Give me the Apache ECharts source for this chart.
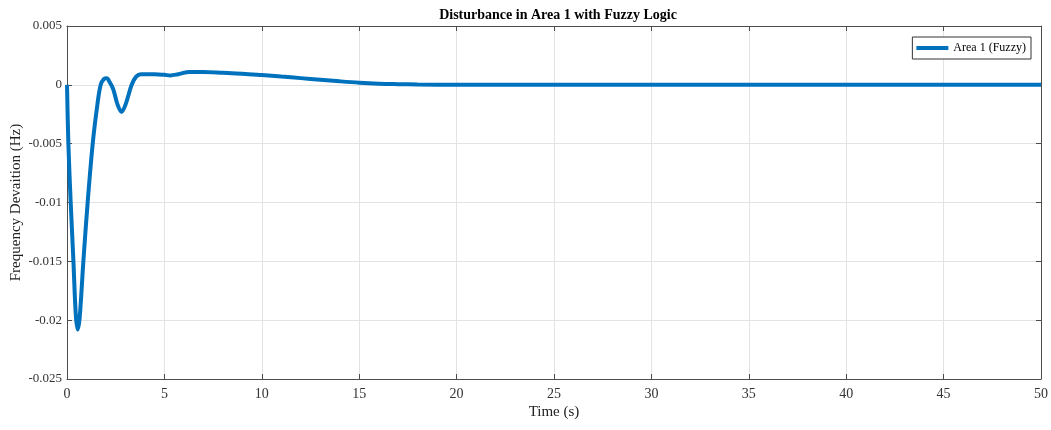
<!DOCTYPE html>
<html><head><meta charset="utf-8">
<script src="https://cdn.jsdelivr.net/npm/echarts@6/dist/echarts.min.js"></script>
<style>html,body{margin:0;padding:0;background:#fff}#c{width:1051px;height:430px}</style>
</head><body><div id="c"></div>
<script>
const timeValues = [0,0.07,0.19,0.33,0.45,0.55,0.65,0.84,1.06,1.32,1.55,1.73,1.9,2.04,2.2,2.38,2.6,2.8,3.0,3.32,3.55,3.8,4.5,5.0,5.3,5.7,6.3,7,8,9,10,11,12,13,14,15,16,17,18,20,22,30,40,50];
const deviationValues = [0,-0.005,-0.010,-0.015,-0.0195,-0.0208,-0.0198,-0.015,-0.010,-0.005,-0.0018,0,0.0005,0.00057,0.0002,-0.0004,-0.0017,-0.0023,-0.0017,0,0.0007,0.0009,0.0009,0.00085,0.0008,0.0009,0.0011,0.0011,0.00103,0.00095,0.00083,0.0007,0.00057,0.00044,0.0003,0.00018,0.0001,0.00006,0.00003,0.00001,0,0,0,0];
const seriesName = 'Area 1 (Fuzzy)';
const titleText = 'Disturbance in Area 1 with Fuzzy Logic';
const xName = 'Time (s)';
const yName = 'Frequency Devaition (Hz)';

const font = 'Liberation Serif';
const axisCol = '#4d4d4d';
const chart = echarts.init(document.getElementById('c'));
const points = timeValues.map((t,i)=>[t,deviationValues[i]]);
const baseAxis = {
  axisLine:{show:true,onZero:false,lineStyle:{color:axisCol,width:1}},
  axisTick:{show:true,inside:true,length:5,lineStyle:{color:axisCol}},
  splitLine:{show:true,lineStyle:{color:'#e3e3e3',width:1}},
};
const sideAxis = {
  axisLine:{show:true,onZero:false,lineStyle:{color:axisCol}},
  axisTick:{show:true,inside:true,length:5,lineStyle:{color:axisCol}},
  axisLabel:{show:false},splitLine:{show:false}
};
chart.setOption({
  animation:false,
  title:{text:titleText,left:553,top:3,textAlign:'center',textStyle:{fontFamily:font,fontSize:14,fontWeight:'bold',color:'#000'}},
  legend:{show:true,right:20,top:37,orient:'vertical',itemWidth:32,itemHeight:4,itemGap:0,padding:[5,5,5,4],
    borderColor:'#333',borderWidth:1,backgroundColor:'#fff',icon:'rect',
    textStyle:{fontFamily:font,fontSize:12,color:'#000'},data:[seriesName]},
  grid:{left:67,right:10,top:26,bottom:51,containLabel:false,outerBoundsMode:'none'},
  xAxis:[
    Object.assign({type:'value',min:0,max:50,interval:5,position:'bottom',
      name:xName,nameLocation:'middle',nameGap:26,nameMoveOverlap:false,nameTextStyle:{fontFamily:font,fontSize:15,color:'#222'},
      axisLabel:{fontFamily:font,fontSize:14,color:'#333',margin:8}},baseAxis),
    Object.assign({type:'value',min:0,max:50,interval:5,position:'top'},sideAxis)
  ],
  yAxis:[
    Object.assign({type:'value',min:-0.025,max:0.005,interval:0.005,position:'left',
      name:yName,nameLocation:'middle',nameGap:43,nameMoveOverlap:false,nameTextStyle:{fontFamily:font,fontSize:15,color:'#222'},
      axisLabel:{fontFamily:font,fontSize:13,color:'#333',margin:5,formatter:v=>{const r=Math.round(v*1000)/1000;return r===0?'0':String(r);}}},baseAxis),
    Object.assign({type:'value',min:-0.025,max:0.005,interval:0.005,position:'right'},sideAxis)
  ],
  series:[{name:seriesName,type:'line',data:points,smooth:0.35,showSymbol:false,symbol:'none',
    lineStyle:{color:'#0072BD',width:4},itemStyle:{color:'#0072BD'},xAxisIndex:0,yAxisIndex:0}]
});
</script></body></html>
